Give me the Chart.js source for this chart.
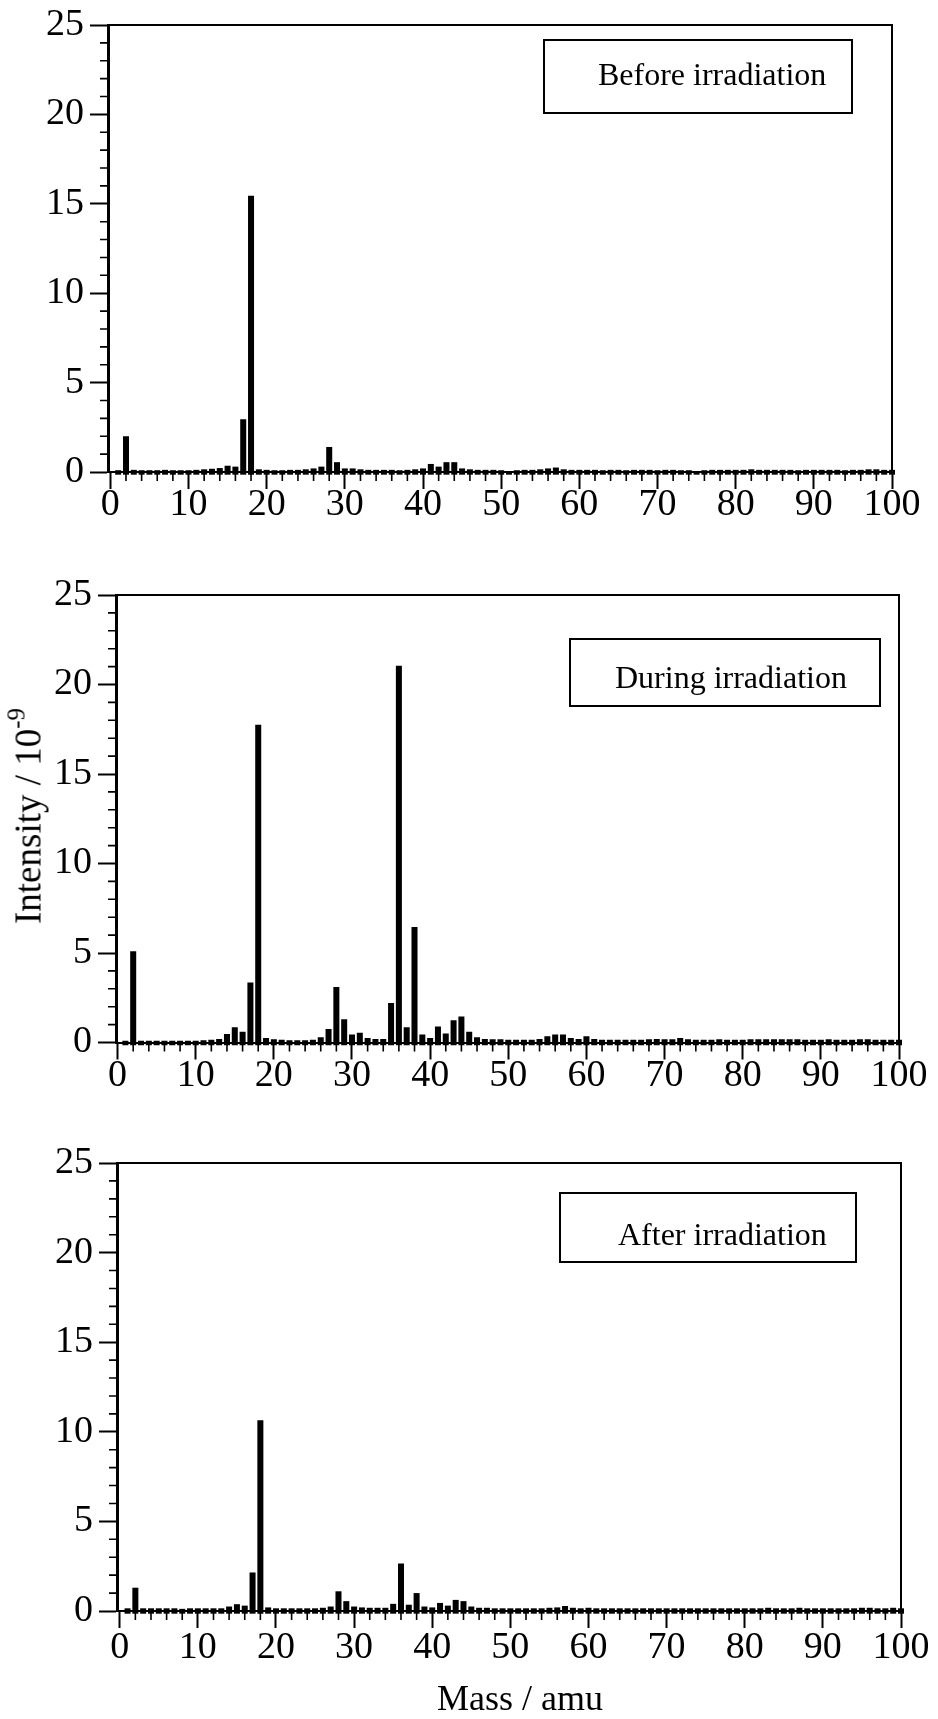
<!DOCTYPE html>
<html>
<head>
<meta charset="utf-8">
<script src="https://cdn.jsdelivr.net/npm/chart.js@4.4.1/dist/chart.umd.min.js"></script>
<style>
html, body { margin:0; padding:0; background:#fff; }
body { width:938px; height:1719px; position:relative; overflow:hidden;
       font-family:"Liberation Serif","Times New Roman",serif; color:#000; }
canvas { position:absolute; left:0; }
.box { position:absolute; border:2px solid #000; box-sizing:border-box; }
.lbl { position:absolute; font-size:32px; line-height:32px; white-space:nowrap; }
#ytitle { position:absolute; left:30px; top:816px; transform:translate(-50%,-50%) rotate(-90deg);
          font-size:37px; line-height:37px; white-space:nowrap; }
#xtitle { position:absolute; left:437px; top:1680px; font-size:36px; line-height:36px; white-space:nowrap; }
</style>
</head>
<body>
<canvas id="c1" width="938" height="540" style="top:0px"></canvas>
<canvas id="c2" width="938" height="540" style="top:560px"></canvas>
<canvas id="c3" width="938" height="560" style="top:1120px"></canvas>

<div class="box" style="left:543px;top:39px;width:310px;height:75px;"></div>
<div class="lbl" style="left:598px;top:58px;">Before irradiation</div>
<div class="box" style="left:569px;top:638px;width:312px;height:69px;"></div>
<div class="lbl" style="left:615px;top:661px;">During irradiation</div>
<div class="box" style="left:559px;top:1192px;width:298px;height:71px;"></div>
<div class="lbl" style="left:618px;top:1218px;">After irradiation</div>

<div id="ytitle">Intensity / 10<span style="font-size:25px;position:relative;top:-16px;">-9</span></div>
<div id="xtitle">Mass / amu</div>

<script>
// ---------- data ----------
const masses = [1,2,3,4,5,6,7,8,9,10,11,12,13,14,15,16,17,18,19,20,
  21,22,23,24,25,26,27,28,29,30,31,32,33,34,35,36,37,38,39,40,
  41,42,43,44,45,46,47,48,49,50,51,52,53,54,55,56,57,58,59,60,
  61,62,63,64,65,66,67,68,69,70,71,72,73,74,75,76,77,78,79,80,
  81,82,83,84,85,86,87,88,89,90,91,92,93,94,95,96,97,98,99,100];

const beforeIrr = [
  0.10,2.00,0.12,0.10,0.10,0.10,0.12,0.10,0.10,0.10,
  0.12,0.15,0.18,0.22,0.35,0.30,2.95,15.45,0.15,0.12,
  0.10,0.10,0.12,0.12,0.15,0.20,0.30,1.40,0.55,0.20,
  0.20,0.15,0.12,0.12,0.12,0.12,0.10,0.12,0.15,0.20,
  0.45,0.30,0.55,0.55,0.20,0.15,0.12,0.12,0.12,0.10,
  0.00,0.10,0.12,0.12,0.15,0.20,0.25,0.15,0.12,0.12,
  0.12,0.12,0.10,0.12,0.12,0.10,0.12,0.12,0.12,0.10,
  0.12,0.12,0.10,0.10,0.00,0.10,0.12,0.12,0.12,0.12,
  0.12,0.15,0.12,0.12,0.12,0.12,0.12,0.10,0.12,0.12,
  0.12,0.12,0.12,0.10,0.12,0.12,0.15,0.15,0.12,0.12];

const duringIrr = [
  0.10,5.10,0.10,0.10,0.10,0.10,0.10,0.10,0.10,0.10,
  0.12,0.15,0.20,0.48,0.85,0.60,3.35,17.75,0.25,0.18,
  0.15,0.12,0.12,0.12,0.15,0.30,0.75,3.10,1.30,0.45,
  0.55,0.25,0.20,0.20,2.20,21.05,0.85,6.45,0.45,0.25,
  0.90,0.50,1.25,1.45,0.60,0.30,0.20,0.18,0.18,0.15,
  0.15,0.15,0.15,0.20,0.35,0.45,0.45,0.25,0.20,0.35,
  0.20,0.15,0.15,0.15,0.15,0.15,0.15,0.18,0.20,0.18,
  0.18,0.25,0.18,0.15,0.15,0.15,0.18,0.15,0.15,0.15,
  0.18,0.18,0.18,0.18,0.18,0.18,0.18,0.15,0.15,0.15,
  0.18,0.15,0.15,0.15,0.18,0.18,0.15,0.15,0.15,0.15];

const afterIrr = [
  0.15,1.30,0.15,0.15,0.15,0.15,0.15,0.12,0.15,0.15,
  0.15,0.15,0.15,0.25,0.38,0.30,2.15,10.65,0.20,0.15,
  0.15,0.15,0.15,0.15,0.15,0.18,0.25,1.10,0.55,0.25,
  0.20,0.18,0.18,0.18,0.40,2.65,0.35,1.00,0.25,0.20,
  0.45,0.30,0.62,0.55,0.25,0.18,0.18,0.15,0.15,0.15,
  0.15,0.15,0.15,0.15,0.18,0.20,0.28,0.18,0.15,0.18,
  0.15,0.15,0.15,0.15,0.15,0.15,0.15,0.15,0.15,0.15,
  0.15,0.15,0.15,0.15,0.15,0.15,0.15,0.15,0.15,0.15,
  0.15,0.15,0.18,0.15,0.15,0.15,0.18,0.15,0.15,0.15,
  0.15,0.15,0.15,0.15,0.18,0.18,0.15,0.15,0.18,0.15];

const xTickValues = [0,10,20,30,40,50,60,70,80,90,100];
const yTickValues = [0,5,10,15,20,25];
const xMinorTicks = [2,4,6,8,12,14,16,18,22,24,26,28,32,34,36,38,42,44,46,48,
  52,54,56,58,62,64,66,68,72,74,76,78,82,84,86,88,92,94,96,98];
const yMinorTicks = [1,2,3,4,6,7,8,9,11,12,13,14,16,17,18,19,21,22,23,24];

// ---------- styling ----------
const FONT = "'Liberation Serif','Times New Roman',serif";

const decor = {
  id: 'decor',
  afterDraw(chart) {
    const {ctx, chartArea: a, scales: {x, y}} = chart;
    ctx.save();
    ctx.strokeStyle = '#000';
    ctx.lineWidth = 2;
    ctx.beginPath();
    ctx.moveTo(a.left, a.top);
    ctx.lineTo(a.right, a.top);
    ctx.lineTo(a.right, a.bottom);
    ctx.stroke();
    ctx.lineWidth = 1.6;
    ctx.beginPath();
    for (const v of xMinorTicks) {
      const px = x.getPixelForValue(v);
      ctx.moveTo(px, a.bottom);
      ctx.lineTo(px, a.bottom + 9);
    }
    for (const v of yMinorTicks) {
      const py = y.getPixelForValue(v);
      ctx.moveTo(a.left, py);
      ctx.lineTo(a.left - 8, py);
    }
    ctx.stroke();
    ctx.restore();
  }
};

function makePanel(id, values, cfg) {
  return new Chart(document.getElementById(id), {
    type: 'bar',
    data: {
      datasets: [{
        data: masses.map((m, i) => ({x: m, y: values[i]})),
        backgroundColor: '#000',
        borderWidth: 0,
        base: -0.15,
        barPercentage: 0.77,
        categoryPercentage: 1.0,
        clip: {left: 4, right: 4, top: 0, bottom: 5}
      }]
    },
    options: {
      responsive: false,
      animation: false,
      devicePixelRatio: 1,
      layout: {padding: {top: cfg.padTop, left: 0, right: cfg.padRight, bottom: 0}},
      plugins: {legend: {display: false}, tooltip: {enabled: false}},
      scales: {
        x: {
          type: 'linear', min: cfg.xMin, max: 100, offset: false,
          afterBuildTicks: s => { s.ticks = xTickValues.map(v => ({value: v})); },
          afterFit: s => { s.height = cfg.xAxisH; },
          grid: {drawOnChartArea: false, drawTicks: true, tickLength: 17, tickWidth: 2,
                 tickColor: '#000', offset: false},
          border: {display: true, color: '#000', width: 2},
          ticks: {color: '#000', font: {family: FONT, size: 38, lineHeight: 1}, padding: cfg.xPad,
                  maxRotation: 0, autoSkip: false}
        },
        y: {
          min: 0, max: 25,
          afterBuildTicks: s => { s.ticks = yTickValues.map(v => ({value: v})); },
          afterFit: s => { s.width = cfg.left; },
          grid: {drawOnChartArea: false, drawTicks: true, tickLength: 18, tickWidth: 2, tickColor: '#000'},
          border: {display: true, color: '#000', width: 3},
          ticks: {color: '#000', font: {family: FONT, size: 38, lineHeight: 1}, padding: 6}
        }
      }
    },
    plugins: [decor]
  });
}

makePanel('c1', beforeIrr, {padTop: 22, padRight: 938 - 892, left: 108, xAxisH: 540 - 472, xMin: -0.3, xPad: -3});
makePanel('c2', duringIrr, {padTop: 35, padRight: 938 - 899, left: 116, xAxisH: 540 - 482.5, xMin: -0.2, xPad: -2});
makePanel('c3', afterIrr,  {padTop: 43, padRight: 938 - 901, left: 117, xAxisH: 560 - 491, xMin: -0.35, xPad: 1});
</script>
</body>
</html>
